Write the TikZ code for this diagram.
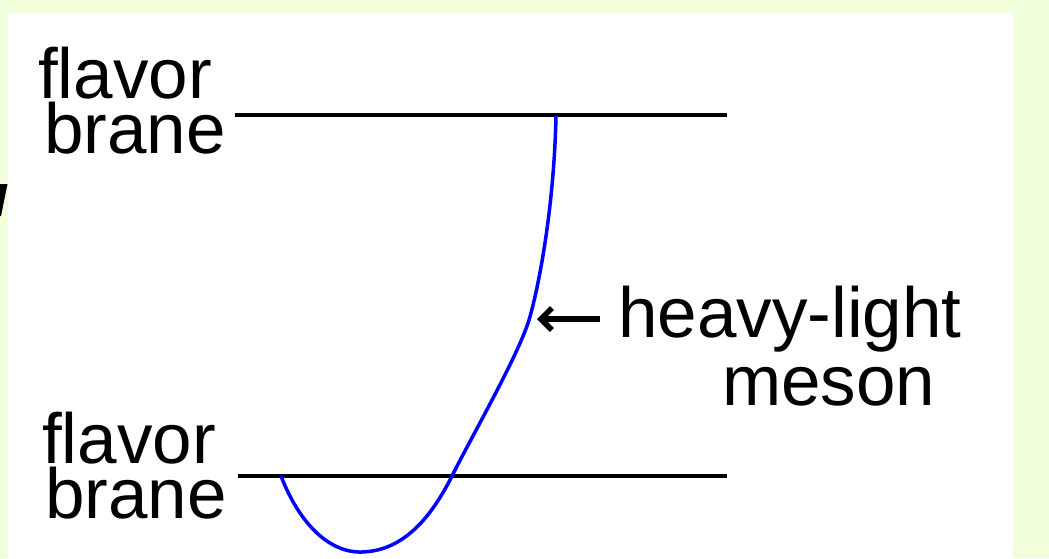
\documentclass[tikz,border=0pt]{standalone}
\usepackage{fontspec}
\setmainfont{Liberation Sans}
\usepackage{xcolor}
\usepackage{tikz}
\usetikzlibrary{arrows.meta,calc}

\definecolor{paleback}{RGB}{241,255,219}

\begin{document}
\begin{tikzpicture}[x=1pt, y=-1pt, every node/.style={font=\fontsize{71}{55}\selectfont, inner sep=0pt, anchor=base west},
    brane/.style={line width=3.2pt},
    meson/.style={blue, line width=3.5pt, line join=round}]
  \useasboundingbox (0,0) rectangle (1049,558);
  \fill[paleback] (0,0) rectangle (1049,558);
  \fill[white] (8,13) rectangle (1013,558);
  \fill[black] (0,184) -- (7.5,184) -- (1,216) -- (0,216) -- cycle;
  % labels
  \node (flavtop) at (38,98) {flavor};
  \node (branetop) at (44,153) {brane};
  \node (flavbot) at (42,463) {flavor};
  \node (branebot) at (45,518) {brane};
  \node (hl) at (618,337) {heavy-light};
  \node (mes) at (722,405) {meson};
  % branes
  \coordinate (t0) at (235,115);
  \coordinate (t1) at (727,115);
  \coordinate (b0) at (238,476);
  \coordinate (b1) at (727,476);
  \draw[brane] (t0) -- (t1);
  \draw[brane] (b0) -- (b1);
  % string
  \coordinate (s0) at (281,476);
  \coordinate (smin) at (362,552);
  \coordinate (scross) at (452,476);
  \coordinate (smid) at (529,320);
  \coordinate (s1) at (556,116);
  \draw[meson] (s0) .. controls (300,525) and (330,553) .. (smin)
    .. controls (395,551) and (425,530) .. (scross)
    .. controls (472,436) and (518,356) .. (smid)
    .. controls (538,290) and (554,210) .. (s1);
  \coordinate (tail) at (600,319);
  \coordinate (tip) at (537,319);
  \draw[line width=5.5pt, -{Straight Barb[length=11pt,width=22pt]}] (tail) -- (tip);
\end{tikzpicture}
\end{document}
